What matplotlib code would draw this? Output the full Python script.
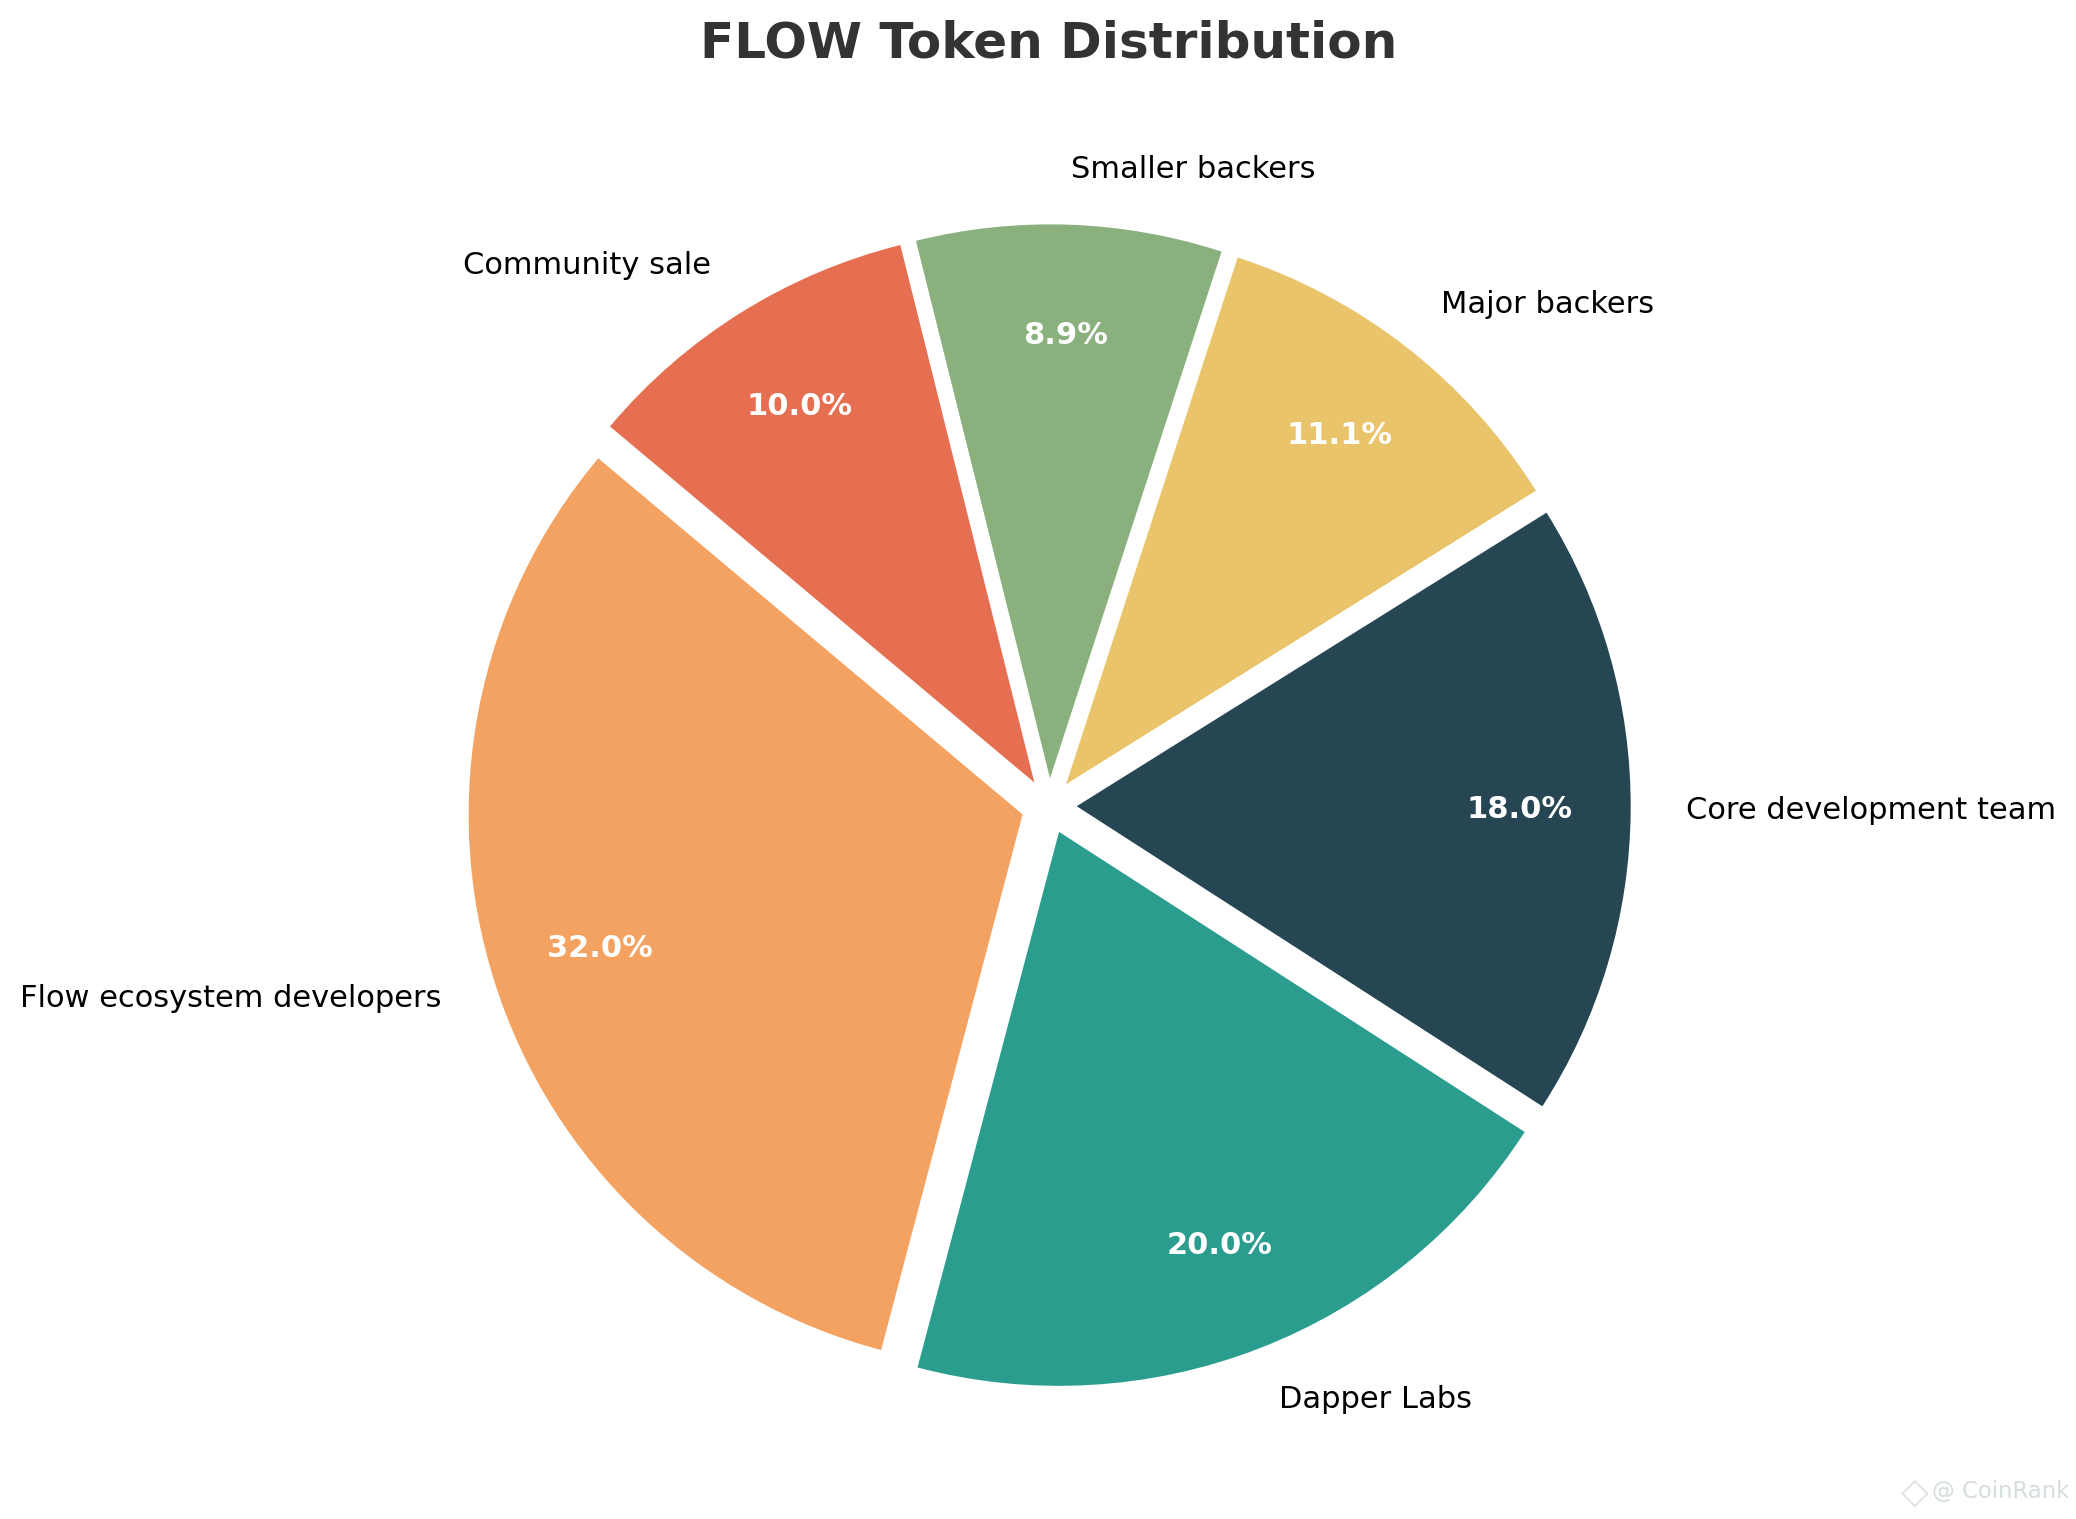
import matplotlib
matplotlib.use("Agg")
import matplotlib.pyplot as plt

labels = ['Flow ecosystem developers', 'Dapper Labs', 'Core development team',
          'Major backers', 'Smaller backers', 'Community sale']
shares = [32.0, 20.0, 18.0, 11.1, 8.9, 10.0]
colors = ['#F4A261', '#2A9D8F', '#264653', '#E9C46A', '#8AB17D', '#E76F51']
explode = [0.05] * 6

fig = plt.figure(figsize=(10.38, 7.595), dpi=200)
ax = fig.add_axes([0, 0, 1, 1])

wedges, texts, autotexts = ax.pie(shares, labels=labels, colors=colors, explode=explode,
                                  startangle=140, autopct='%1.1f%%', pctdistance=0.8,
                                  wedgeprops={'linewidth': 0},
                                  textprops={'fontsize': 11})
for t in autotexts:
    t.set_color('white')
    t.set_fontweight('bold')

ax.set_aspect('equal')
ax.set_xlim(-1.8935, 1.8537)
ax.set_ylim(-1.287, 1.455)

fig.text(0.505, 0.9715, 'FLOW Token Distribution', fontsize=18, fontweight='bold',
         color='#333333', ha='center', va='center')

# faint watermark, bottom right corner
fig.text(0.9637, 0.0184, '@ CoinRank', fontsize=8.2, color='#d5dedb', ha='center', va='center')
fig.text(0.9224, 0.0171, '\u25c7', fontsize=13, color='#dfe5e3', ha='center', va='center')

fig.savefig('out.png', dpi=200)
